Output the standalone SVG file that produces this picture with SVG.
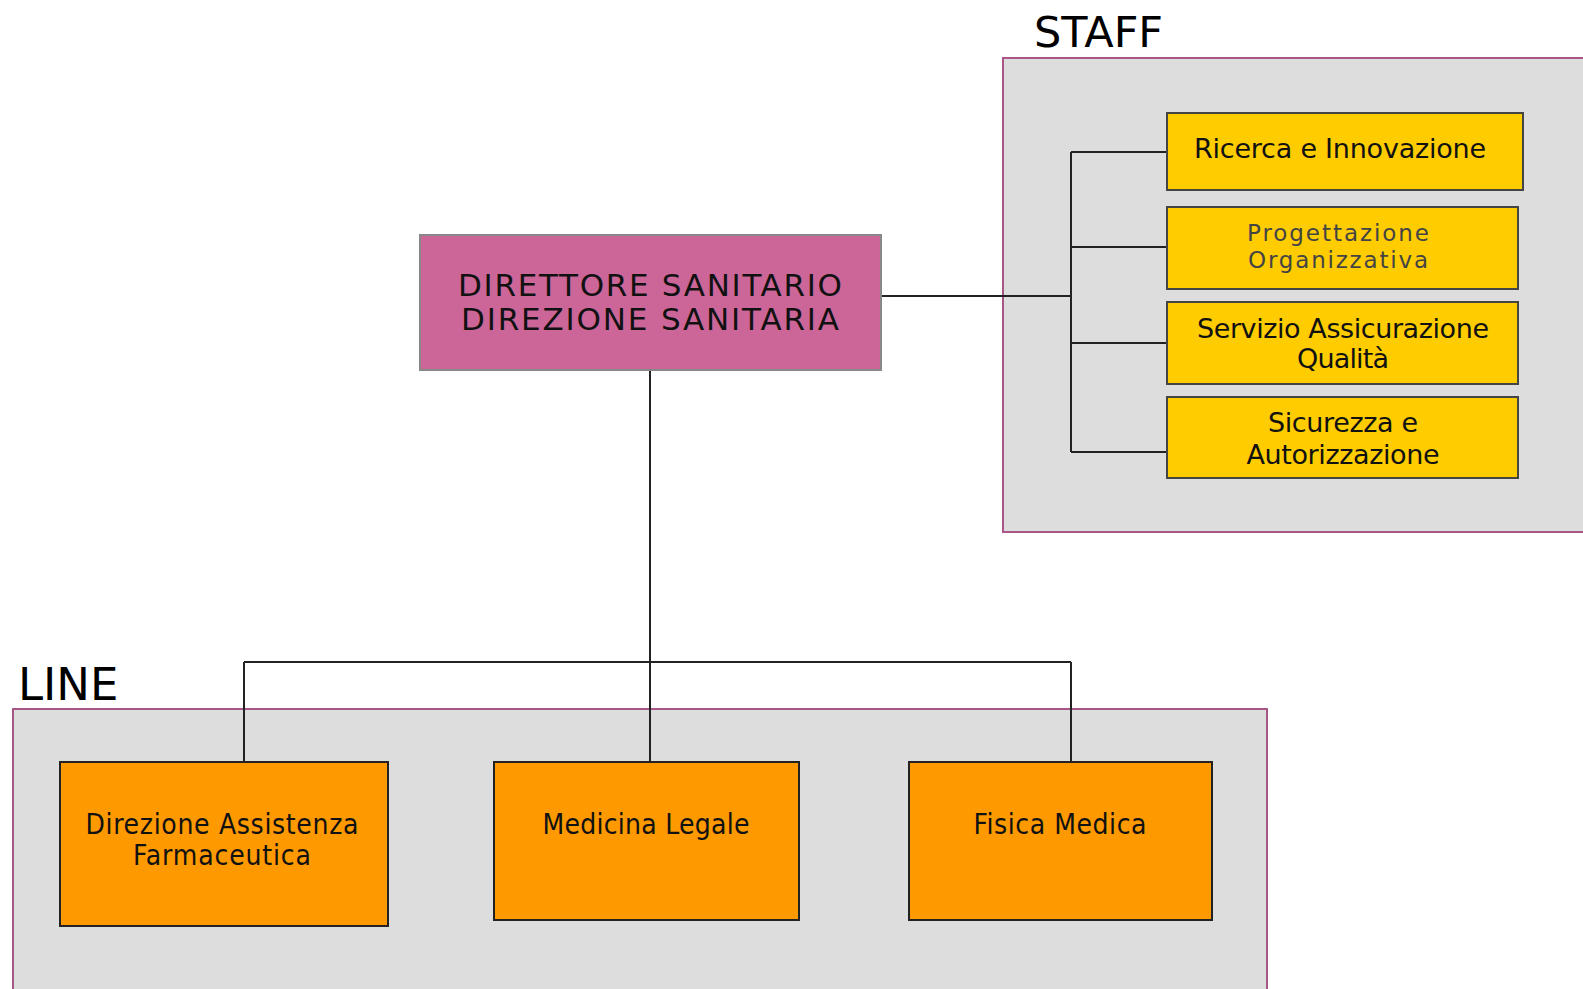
<svg xmlns="http://www.w3.org/2000/svg" width="1583" height="989" viewBox="0 0 1583 989">
<style>
.panel{fill:#dddddd;stroke:#aa5588;stroke-width:2}
.label{font-family:"DejaVu Sans",Verdana,sans-serif;fill:#000}
.dir{fill:#cc6699;stroke:#888888;stroke-width:2}
.staff{fill:#ffcc00;stroke:#444444;stroke-width:2}
.line{fill:#ff9900;stroke:#222222;stroke-width:2}
.t{font-family:"DejaVu Sans",Verdana,sans-serif;fill:#111;text-anchor:middle}
.tg{font-family:"DejaVu Sans",Verdana,sans-serif;fill:#444;text-anchor:middle}
.tc{font-family:"DejaVu Sans Condensed","DejaVu Sans",sans-serif;fill:#111;text-anchor:middle}
.conn{fill:none;stroke:#222;stroke-width:2}
</style>
<rect width="1583" height="989" fill="#ffffff"/>
<g id="staff-panel">
<rect class="panel" x="1003" y="58" width="600" height="474"/>
<text class="label" x="1034" y="47" font-size="43">STAFF</text>
</g>
<g id="line-panel">
<rect class="panel" x="13" y="709" width="1254" height="300"/>
<text class="label" x="18" y="700" font-size="45">LINE</text>
</g>
<g id="connectors">
<path class="conn" d="M881,296 H1071 M1071,152 V452 M1071,152 H1167 M1071,247 H1167 M1071,343 H1167 M1071,452 H1167"/>
<path class="conn" d="M650,370 V762 M244,662 H1071 M244,662 V762 M1071,662 V762"/>
</g>
<g id="direttore">
<rect class="dir" x="420" y="235" width="461" height="135"/>
<text class="t" x="650" y="296" font-size="31" textLength="384">DIRETTORE SANITARIO</text>
<text class="t" x="650" y="330" font-size="31" textLength="378">DIREZIONE SANITARIA</text>
</g>
<g id="ricerca">
<rect class="staff" x="1167" y="113" width="356" height="77"/>
<text class="t" x="1340" y="158" font-size="27" textLength="292">Ricerca e Innovazione</text>
</g>
<g id="progettazione">
<rect class="staff" x="1167" y="207" width="351" height="82"/>
<text class="tg" x="1338" y="241" font-size="23" textLength="182">Progettazione</text>
<text class="tg" x="1338" y="268" font-size="23" textLength="180">Organizzativa</text>
</g>
<g id="servizio">
<rect class="staff" x="1167" y="302" width="351" height="82"/>
<text class="t" x="1343" y="338" font-size="27" textLength="292">Servizio Assicurazione</text>
<text class="t" x="1343" y="368" font-size="27" textLength="92">Qualità</text>
</g>
<g id="sicurezza">
<rect class="staff" x="1167" y="397" width="351" height="81"/>
<text class="t" x="1343" y="432" font-size="27" textLength="150">Sicurezza e</text>
<text class="t" x="1343" y="464" font-size="27" textLength="193">Autorizzazione</text>
</g>
<g id="farmaceutica">
<rect class="line" x="60" y="762" width="328" height="164"/>
<text class="tc" x="222" y="834" font-size="28" textLength="273">Direzione Assistenza</text>
<text class="tc" x="222" y="865" font-size="28" textLength="178">Farmaceutica</text>
</g>
<g id="medicina-legale">
<rect class="line" x="494" y="762" width="305" height="158"/>
<text class="tc" x="646" y="834" font-size="28" textLength="207">Medicina Legale</text>
</g>
<g id="fisica-medica">
<rect class="line" x="909" y="762" width="303" height="158"/>
<text class="tc" x="1060" y="834" font-size="28" textLength="173">Fisica Medica</text>
</g>
</svg>
